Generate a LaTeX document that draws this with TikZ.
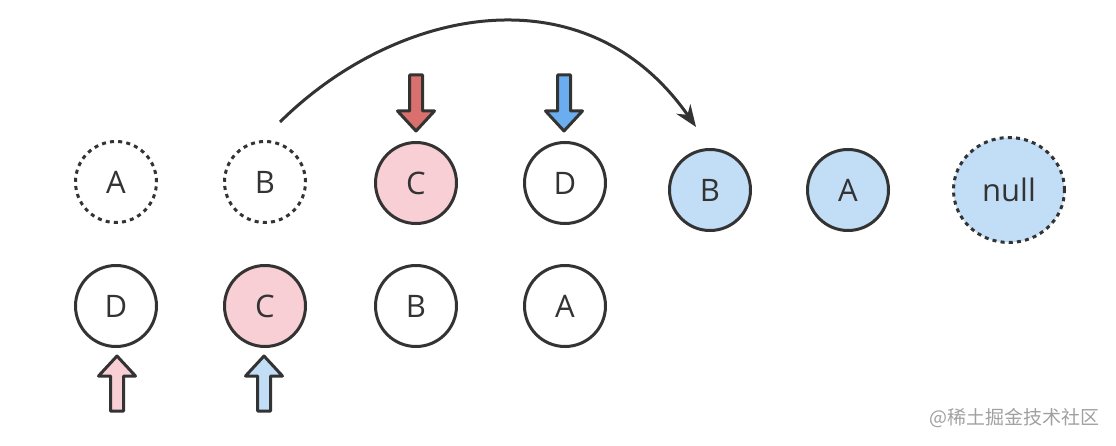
\documentclass[tikz,border=0pt]{standalone}
\usepackage{fontspec}
\setmainfont{Open Sans}
\newfontfamily\cjk{Noto Sans CJK SC}
\usetikzlibrary{arrows.meta,shapes.geometric}
\definecolor{ink}{HTML}{333333}
\definecolor{pinkfill}{HTML}{F8CFD5}
\definecolor{bluefill}{HTML}{C2DEF6}
\definecolor{redarrow}{HTML}{D9706E}
\definecolor{bluearrow}{HTML}{6AAEEF}
\definecolor{wm}{HTML}{A0A0A0}
\tikzset{
  ball/.style={circle, draw=ink, line width=3pt, minimum size=81pt, inner sep=0pt,
    text=ink, font=\fontsize{31}{31}\selectfont},
  ghost/.style={ball, dash pattern=on 4pt off 4.2pt},
  pinkball/.style={ball, fill=pinkfill},
  blueball/.style={ball, fill=bluefill},
  blockarrow/.style={draw=ink, line width=3pt, line join=round},
}
% \downptr{x}{top}{tip}{fill}
\newcommand{\downptr}[4]{%
  \draw[blockarrow, fill=#4] (#1-6.5,#2) -- (#1+6.5,#2) -- (#1+6.5,#3-20) -- (#1+18.5,#3-20)
    -- (#1,#3) -- (#1-18.5,#3-20) -- (#1-6.5,#3-20) -- cycle;}
\newcommand{\upptr}[4]{%
  \draw[blockarrow, fill=#4] (#1-6.5,#2) -- (#1+6.5,#2) -- (#1+6.5,#3+20) -- (#1+18.5,#3+20)
    -- (#1,#3) -- (#1-18.5,#3+20) -- (#1-6.5,#3+20) -- cycle;}
\begin{document}
\begin{tikzpicture}[x=1pt,y=-1pt]
\useasboundingbox (0,0) rectangle (1116,446);
% top row
\node[ghost] (tA) at (116,182) {A};
\node[ghost] (tB) at (265,182) {B};
\node[pinkball] (tC) at (416,183) {C};
\node[ball] (tD) at (565,183) {D};
\node[blueball] (rB) at (710,190) {B};
\node[blueball] (rA) at (848,190) {A};
\node[ellipse, draw=ink, fill=bluefill, line width=3pt, dash pattern=on 4pt off 4.2pt,
  minimum width=111pt, minimum height=105pt, inner sep=0pt, text=ink,
  font=\fontsize{31}{31}\selectfont] (rN) at (1009,190) {null};
% bottom row
\node[ball] (bD) at (116,306) {D};
\node[pinkball] (bC) at (265,306) {C};
\node[ball] (bB) at (416,306) {B};
\node[ball] (bA) at (565,306) {A};
% pointers
\downptr{416}{75}{131}{redarrow}
\downptr{564}{75}{131}{bluearrow}
\upptr{117}{411}{356}{pinkfill}
\upptr{264}{411}{356}{bluefill}
% curved arrow
\coordinate (arcS) at (280,122);
\coordinate (arcE) at (696,127);
\draw[ink, line width=3pt, -{Stealth[length=22pt,width=17pt]}]
  (arcS) .. controls (395,8) and (585,-32) .. (arcE);
% watermark
\node[text=wm, font=\cjk\fontsize{19}{19}\selectfont, anchor=east] (wmk) at (1103,418) {@稀土掘金技术社区};
\end{tikzpicture}
\end{document}
